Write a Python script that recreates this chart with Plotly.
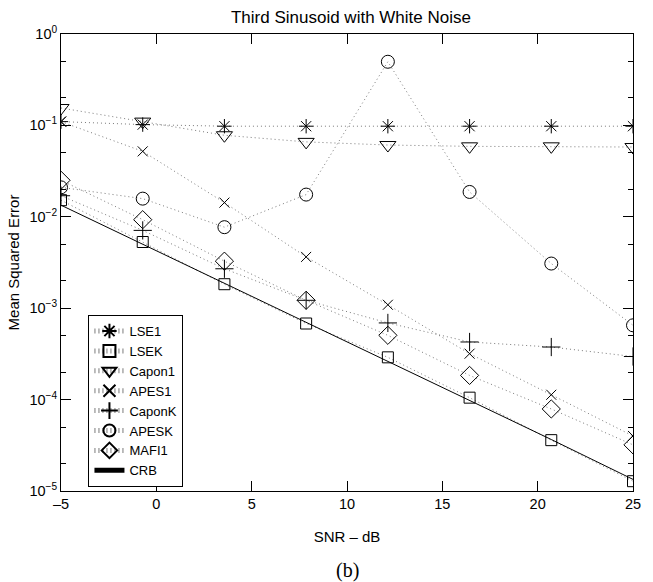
import plotly.graph_objects as go

snr = [-5, -0.714, 3.571, 7.857, 12.143, 16.429, 20.714, 25]

lse1 = [0.11, 0.102, 0.098, 0.098, 0.098, 0.098, 0.098, 0.098]
lsek = [0.0152, 0.0053, 0.00183, 0.00068, 0.00029, 0.000105, 0.000036, 0.0000128]
capon1 = [0.155, 0.11, 0.078, 0.066, 0.061, 0.059, 0.059, 0.058]
apes1 = [0.11, 0.052, 0.0143, 0.00364, 0.00109, 0.000318, 0.000113, 0.00004]
caponk = [0.017, 0.0071, 0.0027, 0.00122, 0.00069, 0.000427, 0.000376, 0.000296]
apesk = [0.021, 0.0158, 0.0077, 0.0175, 0.497, 0.0187, 0.00308, 0.00065]
mafi1 = [0.0251, 0.0093, 0.00327, 0.00122, 0.000505, 0.000184, 0.000079, 0.000032]
crb = [0.0134, 0.00502, 0.00187, 0.000700, 0.000262, 0.0000979, 0.0000366, 0.0000134]

xticks = [-5, 0, 5, 10, 15, 20, 25]
xticklabels = ["\u20135", "0", "5", "10", "15", "20", "25"]
yticks = [1e-5, 1e-4, 1e-3, 1e-2, 1e-1, 1]
yticklabels = ["10<sup>\u22125</sup>", "10<sup>\u22124</sup>", "10<sup>\u22123</sup>",
               "10<sup>\u22122</sup>", "10<sup>\u22121</sup>", "10<sup>0</sup>"]

series = [
    ("LSE1", lse1, "asterisk-open", 12),
    ("LSEK", lsek, "square-open", 11),
    ("Capon1", capon1, "triangle-down-open", 14),
    ("APES1", apes1, "x-thin-open", 10),
    ("CaponK", caponk, "cross-thin-open", 13),
    ("APESK", apesk, "circle-open", 13),
    ("MAFI1", mafi1, "diamond-open", 14),
]

fig = go.Figure()
for name, vals, sym, sz in series:
    fig.add_trace(go.Scatter(
        x=snr, y=vals, name=name, mode="lines+markers",
        line=dict(color="#7a7a7a", width=1, dash="1px,3px"),
        marker=dict(symbol=sym, size=sz, color="black", line=dict(width=1, color="black")),
    ))
fig.add_trace(go.Scatter(
    x=snr, y=crb, name="CRB", mode="lines",
    line=dict(color="black", width=1),
))

font = "Liberation Sans, Arial, sans-serif"
fig.update_layout(
    width=653, height=582,
    margin=dict(l=61, r=12, t=34, b=91),
    paper_bgcolor="white", plot_bgcolor="white",
    font=dict(family=font, size=14.5, color="black"),
    title=dict(text="Third Sinusoid with White Noise", x=0.5375, xanchor="center",
               y=0.971, yanchor="middle", font=dict(size=17)),
    showlegend=True,
    legend=dict(x=0.048, y=0.385, xanchor="left", yanchor="top",
                bgcolor="white", bordercolor="black", borderwidth=1,
                font=dict(size=13), tracegroupgap=0, itemsizing="constant"),
    xaxis=dict(range=[-5, 25], tickvals=xticks, ticktext=xticklabels,
               ticks="inside", ticklen=10, tickcolor="black", showgrid=False,
               zeroline=False, showline=True, linecolor="black", linewidth=1,
               mirror="ticks", tickfont=dict(size=14.5),
               title=dict(text="SNR \u2013 dB", font=dict(size=15), standoff=20)),
    yaxis=dict(type="log", range=[-5, 0], tickvals=yticks, ticktext=yticklabels,
               ticks="inside", ticklen=10, tickcolor="black", showgrid=False,
               zeroline=False, showline=True, linecolor="black", linewidth=1,
               mirror="ticks", tickfont=dict(size=14.5),
               minor=dict(ticks="inside", ticklen=5, tickcolor="black", showgrid=False),
               title=dict(text="Mean Squared Error", font=dict(size=15), standoff=6)),
    annotations=[dict(text="(b)", xref="paper", yref="paper", x=0.5, y=-0.174,
                      xanchor="center", yanchor="middle", showarrow=False,
                      font=dict(family="Liberation Serif, Times New Roman, serif", size=20))],
)

fig.write_html("out.html")
